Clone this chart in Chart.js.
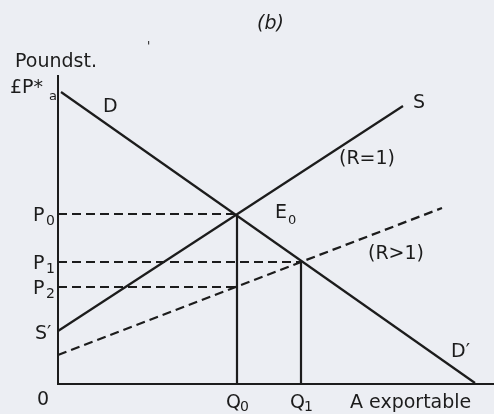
<!DOCTYPE html>
<html>
<head>
<meta charset="utf-8">
<script src="https://cdn.jsdelivr.net/npm/chart.js@4/dist/chart.umd.min.js"></script>
<style>
  html, body { margin: 0; padding: 0; background: #eceef3; }
  canvas { display: block; }
</style>
</head>
<body>
<canvas id="chart" width="494" height="414"></canvas>
<script>
// axis ranges (quantity on x, pound price on y)
const xMax = 436;
const yMax = 308;

// demand curve D -> D'
const demandX = [3, 417];
const demandY = [292, 1];

// supply S (R=1)
const supplyX = [0, 345];
const supplyY = [53, 278];

// supply after change (R>1), dashed
const supplyR2X = [0, 384];
const supplyR2Y = [29, 176];

// price levels and how far their guide runs
const priceNames = ['P', 'P', 'P'];
const priceSubs = ['0', '1', '2'];
const priceValues = [170, 122, 97];
const priceEnds = [179, 243, 179];

// quantities and the height of their guide
const qtyNames = ['Q', 'Q'];
const qtySubs = ['0', '1'];
const qtyValues = [179, 243];
const qtyTops = [170, 122];

function pts(xs, ys) {
  return xs.map((x, i) => ({ x: x, y: ys[i] }));
}

const ink = '#1c1c1c';
const datasets = [
  { data: pts(demandX, demandY) },
  { data: pts(supplyX, supplyY) },
  { data: pts(supplyR2X, supplyR2Y), borderDash: [9, 5] },
];
priceValues.forEach((p, i) => {
  datasets.push({ data: [{ x: 0, y: p }, { x: priceEnds[i], y: p }], borderDash: [9, 5] });
});
qtyValues.forEach((q, i) => {
  datasets.push({ data: [{ x: q, y: 0 }, { x: q, y: qtyTops[i] }] });
});
datasets.forEach((d) => {
  d.borderColor = ink;
  d.borderWidth = 2.2;
  d.pointRadius = 0;
  d.fill = false;
  d.clip = false;
});

const FONT = '"DejaVu Sans", Verdana, sans-serif';

function txt(ctx, s, x, y, size, align, style) {
  ctx.font = (style || '') + ' ' + size + 'px ' + FONT;
  ctx.textAlign = align || 'left';
  ctx.fillText(s, x, y);
}

const labelsPlugin = {
  id: 'labels',
  beforeDraw(chart) {
    const ctx = chart.ctx;
    ctx.save();
    ctx.fillStyle = '#eceef3';
    ctx.fillRect(0, 0, chart.width, chart.height);
    ctx.restore();
  },
  afterDraw(chart) {
    const ctx = chart.ctx;
    const xs = chart.scales.x;
    const ys = chart.scales.y;
    const x0 = xs.getPixelForValue(0);
    const y0 = ys.getPixelForValue(0);
    ctx.save();
    ctx.fillStyle = ink;
    ctx.textBaseline = 'alphabetic';

    txt(ctx, '(b)', 257, 29, 19, 'left', 'italic');
    txt(ctx, '\'', 147, 50, 12, 'left');
    txt(ctx, 'Poundst.', x0 - 43, ys.getPixelForValue(yMax) - 9, 19);

    // top of demand on the price axis
    const dTop = ys.getPixelForValue(demandY[0]);
    txt(ctx, '£P*', x0 - 48, dTop + 1, 19);
    txt(ctx, 'a', x0 - 9, dTop + 8, 13);

    // curve names
    const dx = xs.getPixelForValue(demandX[0]);
    txt(ctx, 'D', dx + 42, dTop + 20, 19);
    const dEndX = xs.getPixelForValue(demandX[1]);
    txt(ctx, 'D\u2032', dEndX - 24, y0 - 27, 19);

    const sx = xs.getPixelForValue(supplyX[1]);
    const sy = ys.getPixelForValue(supplyY[1]);
    txt(ctx, 'S', sx + 10, sy + 2, 19);
    txt(ctx, '(R=1)', sx - 64, sy + 58, 19);

    const rx = xs.getPixelForValue(supplyR2X[1]);
    const ry = ys.getPixelForValue(supplyR2Y[1]);
    txt(ctx, '(R>1)', rx - 74, ry + 51, 19);

    // equilibrium point
    const ex = xs.getPixelForValue(qtyValues[0]);
    const ey = ys.getPixelForValue(priceValues[0]);
    txt(ctx, 'E', ex + 38, ey + 4, 19);
    txt(ctx, '0', ex + 51, ey + 10, 13);

    // price labels on the vertical axis
    priceValues.forEach((p, i) => {
      const py = ys.getPixelForValue(p);
      txt(ctx, priceNames[i], x0 - 25, py + 7, 19);
      txt(ctx, priceSubs[i], x0 - 12, py + 11, 14);
    });
    // S' where the supply starts
    const spy = ys.getPixelForValue(supplyY[0]);
    txt(ctx, 'S\u2032', x0 - 23, spy + 8, 19);

    // origin
    txt(ctx, '0', x0 - 21, y0 + 21, 19);

    // quantity labels
    qtyValues.forEach((q, i) => {
      const qx = xs.getPixelForValue(q);
      txt(ctx, qtyNames[i], qx - 11, y0 + 24, 19);
      txt(ctx, qtySubs[i], qx + 3, y0 + 27, 14);
    });
    txt(ctx, 'A exportable', 350, y0 + 24, 19);

    ctx.restore();
  },
};

new Chart(document.getElementById('chart'), {
  type: 'line',
  data: { datasets: datasets },
  options: {
    responsive: false,
    devicePixelRatio: 1,
    animation: false,
    layout: { padding: { left: 50, top: 76, right: 0, bottom: 22 } },
    plugins: { legend: { display: false }, tooltip: { enabled: false } },
    scales: {
      x: {
        type: 'linear',
        min: 0,
        max: xMax,
        grid: { display: false },
        ticks: { display: false },
        border: { display: true, color: ink, width: 2 },
      },
      y: {
        type: 'linear',
        min: 0,
        max: yMax,
        grid: { display: false },
        ticks: { display: false },
        border: { display: true, color: ink, width: 2 },
      },
    },
  },
  plugins: [labelsPlugin],
});
</script>
</body>
</html>
